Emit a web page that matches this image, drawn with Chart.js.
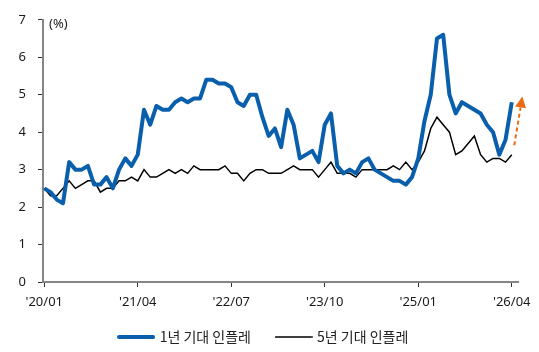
<!DOCTYPE html>
<html>
<head>
    <meta charset="UTF-8">
    <title>기대 인플레</title>
    <script src="https://cdn.jsdelivr.net/npm/chart.js"></script>
    <style>
        html, body { margin: 0; padding: 0; background: #fff; }
        #wrap { width: 539px; height: 352px; position: relative; }
    </style>
</head>
<body>
<div id="wrap"><canvas id="chart"></canvas></div>
<script>
    // 월별 (2020/01 ~ 2026/04)
    const months = [];
    for (let y = 20; y <= 26; y++) {
        for (let m = 1; m <= 12; m++) {
            if (y === 26 && m > 4) break;
            months.push("'" + y + '/' + String(m).padStart(2, '0'));
        }
    }

    // 1년 기대 인플레 (%)
    const infl1y = [
        2.5, 2.4, 2.2, 2.1, 3.2, 3.0, 3.0, 3.1, 2.6, 2.6, 2.8, 2.5,
        3.0, 3.3, 3.1, 3.4, 4.6, 4.2, 4.7, 4.6, 4.6, 4.8, 4.9, 4.8,
        4.9, 4.9, 5.4, 5.4, 5.3, 5.3, 5.2, 4.8, 4.7, 5.0, 5.0, 4.4,
        3.9, 4.1, 3.6, 4.6, 4.2, 3.3, 3.4, 3.5, 3.2, 4.2, 4.5, 3.1,
        2.9, 3.0, 2.9, 3.2, 3.3, 3.0, 2.9, 2.8, 2.7, 2.7, 2.6, 2.8,
        3.3, 4.3, 5.0, 6.5, 6.6, 5.0, 4.5, 4.8, 4.7, 4.6, 4.5, 4.2,
        4.0, 3.4, 3.8, 4.8
    ];

    // 5년 기대 인플레 (%)
    const infl5y = [
        2.5, 2.3, 2.3, 2.5, 2.7, 2.5, 2.6, 2.7, 2.7, 2.4, 2.5, 2.5,
        2.7, 2.7, 2.8, 2.7, 3.0, 2.8, 2.8, 2.9, 3.0, 2.9, 3.0, 2.9,
        3.1, 3.0, 3.0, 3.0, 3.0, 3.1, 2.9, 2.9, 2.7, 2.9, 3.0, 3.0,
        2.9, 2.9, 2.9, 3.0, 3.1, 3.0, 3.0, 3.0, 2.8, 3.0, 3.2, 2.9,
        2.9, 2.9, 2.8, 3.0, 3.0, 3.0, 3.0, 3.0, 3.1, 3.0, 3.2, 3.0,
        3.2, 3.5, 4.1, 4.4, 4.2, 4.0, 3.4, 3.5, 3.7, 3.9, 3.4, 3.2,
        3.3, 3.3, 3.2, 3.4
    ];

    // x축 눈금 (월 인덱스)
    const xTickIdx = [0, 15, 30, 45, 60, 75];
    const yTicks = [0, 1, 2, 3, 4, 5, 6, 7];

    // 상승 화살표 (x: 월 인덱스, y: %)
    const arrowFrom = [75.4, 3.65];
    const arrowTo = [76.7, 4.95];

    const BLUE = '#0a5fad';
    const ORANGE = '#ec6a12';

    // 범례용 선 모양
    function lineSwatch(color, h) {
        const c = document.createElement('canvas');
        c.width = 38; c.height = Math.ceil(h) + 2;
        const g = c.getContext('2d');
        g.strokeStyle = color;
        g.lineWidth = h;
        g.lineCap = 'round';
        g.beginPath();
        g.moveTo(h / 2, c.height / 2);
        g.lineTo(38 - h / 2, c.height / 2);
        g.stroke();
        return c;
    }

    const extras = {
        id: 'extras',
        afterLayout(chart) {
            // 범례 위치 미세 조정
            const lg = chart.legend;
            lg.left += 5; lg.right += 5;
            lg.top -= 8; lg.bottom -= 8;
        },
        afterDatasetsDraw(chart) {
            const ctx = chart.ctx, x = chart.scales.x, y = chart.scales.y;
            const x0 = x.getPixelForValue(arrowFrom[0]), y0 = y.getPixelForValue(arrowFrom[1]);
            const x1 = x.getPixelForValue(arrowTo[0]), y1 = y.getPixelForValue(arrowTo[1]);
            const ang = Math.atan2(y1 - y0, x1 - x0);
            const headLen = 11, headW = 5.5;
            const bx = x1 - headLen * Math.cos(ang), by = y1 - headLen * Math.sin(ang);
            ctx.save();
            ctx.strokeStyle = ORANGE;
            ctx.fillStyle = ORANGE;
            ctx.lineWidth = 2;
            ctx.setLineDash([4, 3]);
            ctx.beginPath();
            ctx.moveTo(x0, y0);
            ctx.lineTo(bx, by);
            ctx.stroke();
            ctx.setLineDash([]);
            ctx.beginPath();
            ctx.moveTo(x1, y1);
            ctx.lineTo(bx + headW * Math.sin(ang), by - headW * Math.cos(ang));
            ctx.lineTo(bx - headW * Math.sin(ang), by + headW * Math.cos(ang));
            ctx.closePath();
            ctx.fill();
            // 단위
            ctx.fillStyle = '#222';
            ctx.font = '13px "Noto Sans", sans-serif';
            ctx.textBaseline = 'middle';
            ctx.fillText('(%)', chart.chartArea.left + 6, chart.chartArea.top + 4);
            ctx.restore();
        }
    };

    new Chart(document.getElementById('chart'), {
        type: 'line',
        data: {
            datasets: [
                {
                    label: '1년 기대 인플레',
                    data: infl1y.map((v, i) => ({ x: i, y: v })),
                    borderColor: BLUE,
                    backgroundColor: BLUE,
                    borderWidth: 4,
                    pointRadius: 0,
                    pointStyle: lineSwatch(BLUE, 4),
                    borderJoinStyle: 'round',
                    tension: 0
                },
                {
                    label: '5년 기대 인플레',
                    data: infl5y.map((v, i) => ({ x: i, y: v })),
                    borderColor: '#000',
                    backgroundColor: '#000',
                    borderWidth: 1.5,
                    pointRadius: 0,
                    pointStyle: lineSwatch('#000', 1.5),
                    tension: 0
                }
            ]
        },
        options: {
            responsive: true,
            maintainAspectRatio: false,
            animation: false,
            layout: { padding: { left: 0, right: 21, top: 19, bottom: -10 } },
            plugins: {
                tooltip: { enabled: false },
                legend: {
                    position: 'bottom',
                    labels: {
                        usePointStyle: true,
                        pointStyleWidth: 33,
                        padding: 26,
                        color: '#222',
                        font: { family: '"Noto Sans CJK KR", sans-serif', size: 14 }
                    }
                }
            },
            scales: {
                x: {
                    type: 'linear',
                    min: -0.2,
                    max: 76,
                    afterBuildTicks: s => { s.ticks = xTickIdx.map(v => ({ value: v })); },
                    afterFit: s => { s.height = 30; },
                    border: { display: true, color: '#858585', width: 2 },
                    grid: { display: true, drawOnChartArea: false, drawTicks: true, tickLength: 5, color: '#333', lineWidth: 1 },
                    ticks: {
                        autoSkip: false,
                        maxRotation: 0,
                        padding: 7,
                        color: '#1a1a1a',
                        font: { family: '"Noto Sans", sans-serif', size: 13 },
                        callback: v => months[v]
                    }
                },
                y: {
                    min: 0,
                    max: 7,
                    afterBuildTicks: s => { s.ticks = yTicks.map(v => ({ value: v })); },
                    afterFit: s => { s.width = 43; },
                    border: { display: true, color: '#858585', width: 2 },
                    grid: { display: true, drawOnChartArea: false, drawTicks: true, tickLength: 5, color: '#333', lineWidth: 1 },
                    ticks: {
                        padding: 12,
                        color: '#1a1a1a',
                        font: { family: '"Noto Sans", sans-serif', size: 13 }
                    }
                }
            }
        },
        plugins: [extras]
    });
</script>
</body>
</html>
